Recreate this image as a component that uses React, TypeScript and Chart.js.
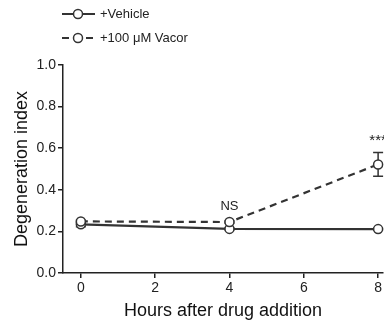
import React, { useEffect, useRef } from "react";
import { Chart, registerables } from "chart.js";

Chart.register(...registerables);

const hours = [0, 4, 8];
const vehicleMean = [0.234, 0.212, 0.211];
const vehicleErr = [0.012, 0.004, 0.004];
const vacorMean = [0.248, 0.245, 0.522];
const vacorErr = [0.006, 0.005, 0.057];
const xTicks = [0, 2, 4, 6, 8];
const seriesNames = ["+Vehicle", "+100 \u03bcM Vacor"];
const annotations = [
  { x: 4, y: 0.33, text: "NS" },
  { x: 8, y: 0.65, text: "***" },
];

const FONT = "'Liberation Sans', Arial, Helvetica, sans-serif";
const INK = "#333333";

const errorBarPlugin = {
  id: "errorBars",
  afterDatasetsDraw(chart: any) {
    const ctx = chart.ctx;
    const xs = chart.scales.x;
    const ys = chart.scales.y;
    const errs = [vehicleErr, vacorErr];
    const means = [vehicleMean, vacorMean];
    ctx.save();
    ctx.strokeStyle = INK;
    ctx.lineWidth = 1.5;
    ctx.setLineDash([]);
    errs.forEach((err, di) => {
      hours.forEach((h, i) => {
        const px = xs.getPixelForValue(h);
        const top = ys.getPixelForValue(means[di][i] + err[i]);
        const bot = ys.getPixelForValue(means[di][i] - err[i]);
        ctx.beginPath();
        ctx.moveTo(px, top);
        ctx.lineTo(px, bot);
        ctx.moveTo(px - 5, top);
        ctx.lineTo(px + 5, top);
        ctx.moveTo(px - 5, bot);
        ctx.lineTo(px + 5, bot);
        ctx.stroke();
      });
    });
    ctx.restore();
  },
};

const redrawPointsPlugin = {
  id: "redrawPoints",
  afterDraw(chart: any) {
    const ctx = chart.ctx;
    ctx.save();
    chart.data.datasets.forEach((ds: any, di: number) => {
      const meta = chart.getDatasetMeta(di);
      meta.data.forEach((pt: any) => {
        ctx.beginPath();
        ctx.setLineDash([]);
        ctx.arc(pt.x, pt.y, 4.5, 0, Math.PI * 2);
        ctx.fillStyle = "#ffffff";
        ctx.fill();
        ctx.lineWidth = 1.5;
        ctx.strokeStyle = INK;
        ctx.stroke();
      });
    });
    ctx.restore();
  },
};

const annotationPlugin = {
  id: "annots",
  afterDraw(chart: any) {
    const ctx = chart.ctx;
    const xs = chart.scales.x;
    const ys = chart.scales.y;
    ctx.save();
    ctx.fillStyle = "#222";
    ctx.textAlign = "center";
    ctx.textBaseline = "middle";
    annotations.forEach((a) => {
      ctx.font = a.text === "***" ? `15px ${FONT}` : `13px ${FONT}`;
      ctx.fillText(a.text, xs.getPixelForValue(a.x), ys.getPixelForValue(a.y) + (a.text === "***" ? 3 : 2));
    });
    ctx.restore();
  },
};

const legendPlugin = {
  id: "customLegend",
  afterDraw(chart: any) {
    const ctx = chart.ctx;
    ctx.save();
    chart.data.datasets.forEach((ds: any, i: number) => {
      const y = 14 + i * 24;
      ctx.strokeStyle = INK;
      ctx.lineWidth = 2;
      ctx.setLineDash(i === 1 ? [7, 5] : []);
      ctx.beginPath();
      ctx.moveTo(62, y);
      ctx.lineTo(95, y);
      ctx.stroke();
      ctx.setLineDash([]);
      ctx.beginPath();
      ctx.arc(78, y, 4.5, 0, Math.PI * 2);
      ctx.fillStyle = "#fff";
      ctx.fill();
      ctx.lineWidth = 1.5;
      ctx.stroke();
      ctx.fillStyle = "#222";
      ctx.font = `13px ${FONT}`;
      ctx.textAlign = "left";
      ctx.textBaseline = "middle";
      ctx.fillText(ds.label, 100, y);
    });
    ctx.restore();
  },
};

export default function App() {
  const ref = useRef<HTMLCanvasElement>(null);
  useEffect(() => {
    document.body.style.margin = "0";
    const chart = new Chart(ref.current!, {
      type: "line",
      data: {
        datasets: [
          {
            label: seriesNames[0],
            data: hours.map((h, i) => ({ x: h, y: vehicleMean[i] })),
            borderColor: INK,
            borderWidth: 2.2,
            pointRadius: 0,
            fill: false,
          },
          {
            label: seriesNames[1],
            data: hours.map((h, i) => ({ x: h, y: vacorMean[i] })),
            borderColor: INK,
            borderWidth: 2.2,
            borderDash: [7, 5],
            pointRadius: 0,
            fill: false,
          },
        ],
      },
      options: {
        animation: false,
        responsive: false,
        maintainAspectRatio: false,
        layout: { padding: { top: 65, left: 0, right: 0, bottom: 0 } },
        plugins: { legend: { display: false }, tooltip: { enabled: false } },
        scales: {
          x: {
            type: "linear",
            min: -0.48,
            max: 8.13,
            afterBuildTicks: (s: any) => {
              s.ticks = xTicks.map((v) => ({ value: v }));
            },
            afterFit: (s: any) => {
              s.height = 60;
            },
            grid: { drawOnChartArea: false, drawTicks: true, tickLength: 5, color: "#222", lineWidth: 1.5 },
            border: { display: true, color: "#222", width: 1.5 },
            ticks: { color: "#222", font: { family: FONT, size: 14 }, padding: 2, maxRotation: 0 },
            title: {
              display: true,
              text: "Hours after drug addition",
              color: "#111",
              font: { family: FONT, size: 18 },
              padding: { top: 2, bottom: 11 },
            },
          },
          y: {
            min: 0,
            max: 1,
            afterFit: (s: any) => {
              s.width = 63;
            },
            grid: { drawOnChartArea: false, drawTicks: true, tickLength: 5, color: "#222", lineWidth: 1.5 },
            border: { display: true, color: "#222", width: 1.5 },
            ticks: {
              stepSize: 0.2,
              color: "#222",
              font: { family: FONT, size: 14 },
              padding: 2,
              callback: (v: any) => Number(v).toFixed(1),
            },
            title: {
              display: true,
              text: "Degeneration index",
              color: "#111",
              font: { family: FONT, size: 18 },
              padding: { top: 11, bottom: 0 },
            },
          },
        },
      },
      plugins: [errorBarPlugin, redrawPointsPlugin, annotationPlugin, legendPlugin],
    } as any);
    return () => chart.destroy();
  }, []);
  return (
    <div style={{ width: 384, height: 333 }}>
      <canvas ref={ref} width={384} height={333} style={{ display: "block" }} />
    </div>
  );
}
